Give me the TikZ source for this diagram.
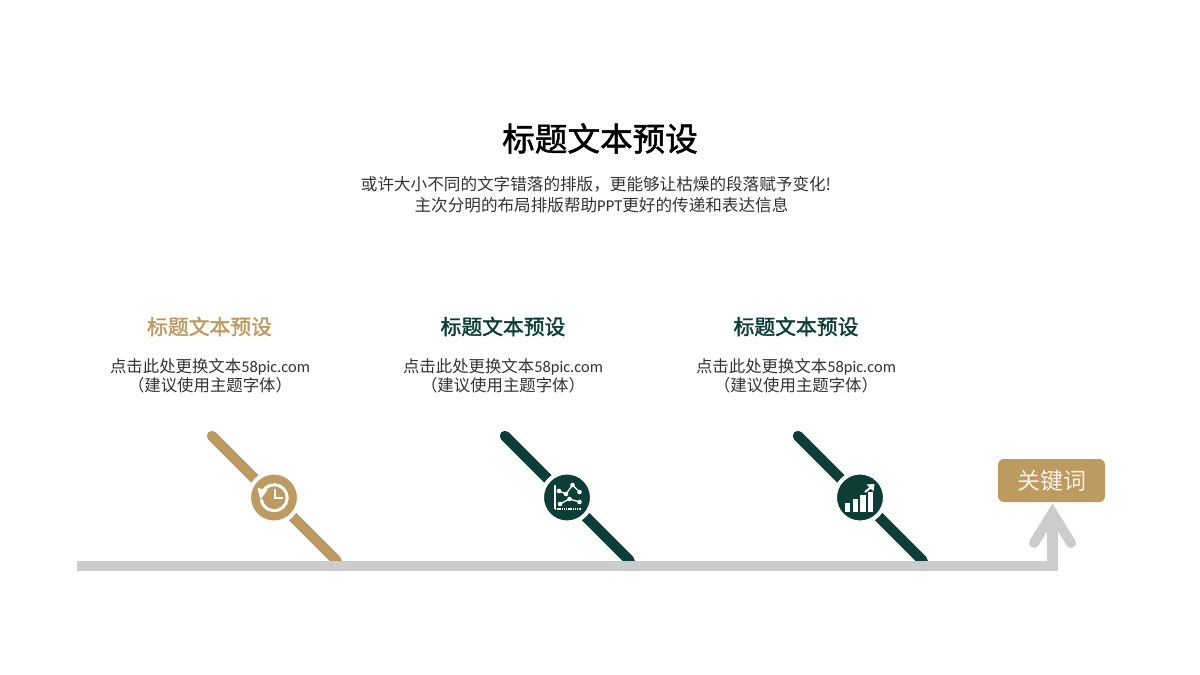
\documentclass[tikz,border=0pt]{standalone}
\usepackage{fontspec}
\setmainfont{Noto Sans CJK SC}
\newfontfamily\latinf{Carlito}
\newfontfamily\semib[FakeBold=1.6]{Noto Sans CJK SC}
\newcommand{\bodylines}{点击此处更换文本{\latinf 58pic.com}\\（建议使用主题字体）}
\definecolor{tan}{HTML}{BC9A60}
\definecolor{pine}{HTML}{0C3D36}
\definecolor{barg}{HTML}{CCCCCC}
\definecolor{bodyt}{HTML}{333333}
\tikzset{
  titletext/.style={font=\fontsize{32.6}{36}\semib,text=black,inner sep=0pt},
  subtext/.style={font=\fontsize{16.6}{21}\selectfont,text=bodyt,inner sep=0pt,align=center},
  headtext/.style={font=\fontsize{20.8}{23}\semib,inner sep=0pt},
  bodytext/.style={font=\fontsize{16.4}{19.5}\selectfont,text=bodyt,inner sep=0pt,align=center},
  spoke/.style={line width=10.5pt,line cap=round},
  hub/.style={circle,minimum size=50pt,inner sep=0pt,fill=#1,draw=white,line width=4pt},
  rail/.style={draw=barg,line width=10.5pt,miter limit=20},
  ico/.style={draw=white,line width=1.3pt},
  dot/.style={circle,fill=white,inner sep=0pt,minimum size=4.6pt},
}
\begin{document}
\begin{tikzpicture}[x=1pt,y=-1pt]
\useasboundingbox (0,0) rectangle (1200,675);
\fill[white] (0,0) rectangle (1200,675);
\node[titletext] (title) at (600,138.5) {标题文本预设};
\node[subtext] (sub) at (596,195) {或许大小不同的文字错落的排版，更能够让枯燥的段落赋予变化!\\\hspace*{11pt}主次分明的布局排版帮助{\latinf PPT}更好的传递和表达信息};
\node[headtext,text=tan] (h1) at (209.5,326.5) {标题文本预设};
\node[headtext,text=pine] (h2) at (503,326.5) {标题文本预设};
\node[headtext,text=pine] (h3) at (796,326.5) {标题文本预设};
\node[bodytext] (b1) at (210,376) {\bodylines};
\node[bodytext] (b2) at (503,376) {\bodylines};
\node[bodytext] (b3) at (796,376) {\bodylines};
% spokes
\coordinate (s1) at (212,436); \coordinate (e1) at (336.5,560.5);
\coordinate (s2) at (505,436); \coordinate (e2) at (629.5,560.5);
\coordinate (s3) at (798,436); \coordinate (e3) at (922.5,560.5);
\draw[spoke,tan] (s1) -- (e1);
\draw[spoke,pine] (s2) -- (e2);
\draw[spoke,pine] (s3) -- (e3);
\node[hub=tan] (c1) at (274,497.5) {};
\node[hub=pine] (c2) at (567,497.5) {};
\node[hub=pine] (c3) at (860,497.5) {};
% rail and arrow
\coordinate (r0) at (77,566);
\coordinate (r1) at (1052.5,516);
\coordinate (al) at (1034,543);
\coordinate (ar) at (1071,543);
\coordinate (at) at (1052.5,513);
\draw[rail] (r0) -| (r1);
\draw[draw=barg,line width=10pt,line cap=round,miter limit=20] (al) -- (at) -- (ar);
\node[fill=tan,rounded corners=6pt,minimum width=107pt,minimum height=43pt,inner sep=0pt,text=white!88!tan,font=\fontsize{23}{25}\selectfont] (key) at (1051.5,480.5) {关键词};
% clock icon
\begin{scope}[shift={(c1)}]
  \draw[white,line width=3pt] (-11.5,-5.5) arc[start angle=154,end angle=-172,x radius=13,y radius=-13];
  \fill[white] (-16.5,-9.5) -- (-6.5,-7.5) -- (-13.5,2) -- cycle;
  \draw[white,line width=2.2pt] (1,-9) -- (1,0.5) -- (9,0.5);
\end{scope}
% chart icon
\begin{scope}[shift={(c2)}]
  \draw[ico] (-12,-13) -- (-12,11);
  \draw[white,line width=2pt,dash pattern=on 1.4pt off 0.8pt] (-12,11.5) -- (14,11.5);
  \draw[ico] (-8,-6.5) coordinate (p1) -- (-1,-3.5) coordinate (p2) -- (5.5,-12.5) coordinate (p3) -- (12.5,-5.5) coordinate (p4);
  \draw[ico] (-7,6.5) coordinate (q1) -- (2.5,1.5) coordinate (q2) -- (12.5,4.5) coordinate (q3);
  \foreach \n in {p1,p2,p3,p4,q1,q2,q3} \node[dot] at (\n) {};
\end{scope}
% bars icon
\begin{scope}[shift={(c3)}]
  \fill[white] (-15,5.5) rectangle (-10,14.5);
  \fill[white] (-7.5,1.5) rectangle (-2.5,14.5);
  \fill[white] (0,-2.5) rectangle (5.5,14.5);
  \fill[white] (8,-5.5) rectangle (13,14.5);
  \draw[white,line width=2pt] (5,-5.5) -- (12,-11);
  \fill[white] (14.5,-13.5) -- (6.5,-13) -- (13.5,-6) -- cycle;
\end{scope}
\end{tikzpicture}
\end{document}
